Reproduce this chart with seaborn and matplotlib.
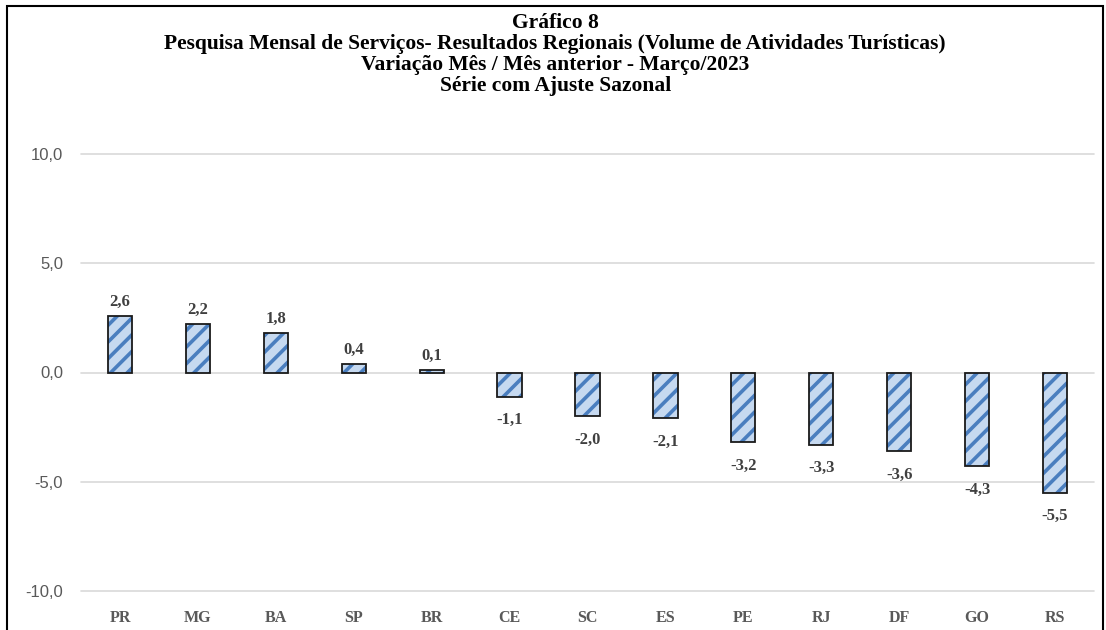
import matplotlib.pyplot as plt
import matplotlib.patches as mpatches
import seaborn as sns
import pandas as pd

estados = ["PR", "MG", "BA", "SP", "BR", "CE", "SC", "ES", "PE", "RJ", "DF", "GO", "RS"]
variacao = [2.6, 2.2, 1.8, 0.4, 0.1, -1.1, -2.0, -2.1, -3.2, -3.3, -3.6, -4.3, -5.5]
y_ticks = [-10, -5, 0, 5, 10]

titulo = ("Gráfico 8\n"
          "Pesquisa Mensal de Serviços- Resultados Regionais (Volume de Atividades Turísticas)\n"
          "Variação Mês / Mês anterior - Março/2023\n"
          "Série com Ajuste Sazonal")

data = pd.DataFrame({"estado": estados, "variacao": variacao})

sns.set_style("white")
plt.rcParams["hatch.linewidth"] = 2.6
serif = ["Liberation Serif", "DejaVu Serif"]

figure = plt.figure(figsize=(11.06, 6.3), dpi=100)
ax = figure.add_axes([81 / 1106, 1 - 591 / 630, (1094 - 81) / 1106, (591 - 154) / 630])

# hatched fill (hatch takes the edge colour), then black outline on top
sns.barplot(data, x="estado", y="variacao", color="#c6d9f0", edgecolor="#4a7ebf",
            linewidth=0, hatch="//", width=0.31, saturation=1, ax=ax, zorder=3)
sns.barplot(data, x="estado", y="variacao", fill=False, edgecolor="#1a1a1a",
            linewidth=1.3, width=0.31, ax=ax, zorder=4)

for i, v in enumerate(variacao):
    txt = f"{v:.1f}".replace(".", ",")
    if v >= 0:
        ax.annotate(txt, (i, v), xytext=(0, 4.5), textcoords="offset points",
                    ha="center", va="bottom", fontsize=12, fontweight="bold",
                    color="#404040", family=serif)
    else:
        ax.annotate(txt, (i, v), xytext=(0, -11), textcoords="offset points",
                    ha="center", va="top", fontsize=12, fontweight="bold",
                    color="#404040", family=serif)

ax.set_ylim(-10, 10)
ax.set_yticks(y_ticks)
ax.set_yticklabels([f"{t:.1f}".replace(".", ",") for t in y_ticks],
                   fontsize=12, color="#595959", family=["Liberation Sans", "DejaVu Sans"])
ax.set_xticks(range(len(estados)))
ax.set_xticklabels(estados, fontsize=11.5, fontweight="bold", color="#595959", family=serif)
ax.tick_params(axis="y", length=0, pad=13)
ax.tick_params(axis="x", length=0, pad=14)
ax.set_xlim(-0.5, len(estados) - 0.5)
ax.set_xlabel("")
ax.set_ylabel("")
for t in y_ticks:
    ax.axhline(t, color="#d9d9d9", linewidth=1.2, zorder=1, clip_on=False)
sns.despine(ax=ax, left=True, bottom=True)

figure.text(0.502, 1 - 13 / 630, titulo, ha="center", va="top", fontsize=15.5,
            fontweight="bold", color="black", family=serif, linespacing=1.06)

# outer frame of the chart area
figure.patches.append(mpatches.Rectangle((7 / 1106, -0.1), (1103 - 7) / 1106, 1.1 - 6 / 630,
                                         transform=figure.transFigure, fill=False,
                                         edgecolor="black", linewidth=1.5))

figure.savefig("out.png", dpi=100)
